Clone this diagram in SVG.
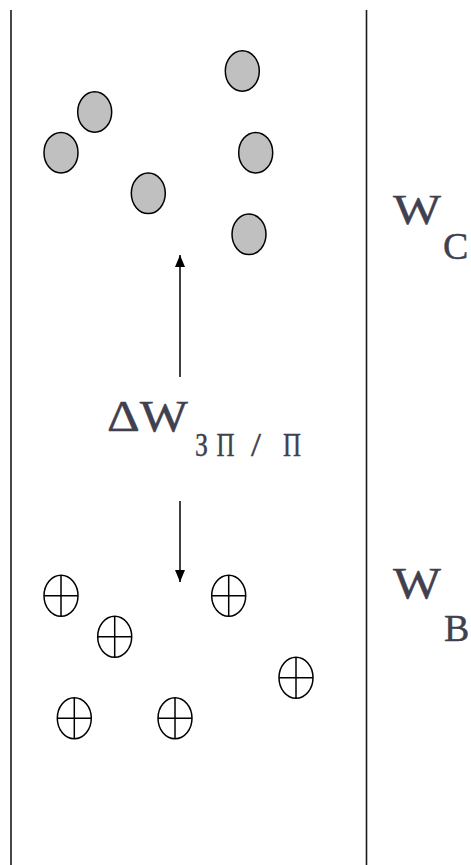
<svg xmlns="http://www.w3.org/2000/svg" width="471" height="865" viewBox="0 0 471 865">
  <style>
    .wall { stroke: #1a1a1a; stroke-width: 1.6; fill: none; }
    .grain { fill: #c0c0c0; stroke: #000; stroke-width: 1.5; }
    .hole { fill: #fff; stroke: #000; stroke-width: 1.5; }
    .cross { stroke: #000; stroke-width: 1.5; }
    .conn { stroke: #000; stroke-width: 1.5; fill: none; }
    .lbl { font-family: "Liberation Serif", "Times New Roman", serif; fill: #40404e; stroke: #40404e; stroke-width: 0.4; }
  </style>
  <defs>
    <marker id="tip" viewBox="0 0 12 10" refX="12" refY="5" markerWidth="12" markerHeight="10" markerUnits="userSpaceOnUse" orient="auto">
      <path d="M0,0 L12,5 L0,10 Z" fill="#000"/>
    </marker>
  </defs>

  <!-- channel walls -->
  <g id="walls">
    <line class="wall" x1="11" y1="10" x2="11" y2="865"/>
    <line class="wall" x1="366.5" y1="10" x2="366.5" y2="865"/>
  </g>

  <!-- upper group: shaded particles -->
  <g id="grains">
    <ellipse class="grain" cx="242.3" cy="71" rx="17" ry="20.3"/>
    <ellipse class="grain" cx="94.7" cy="112" rx="17" ry="20.3"/>
    <ellipse class="grain" cx="61" cy="152.7" rx="17" ry="20.3"/>
    <ellipse class="grain" cx="255.7" cy="152.7" rx="17" ry="20.3"/>
    <ellipse class="grain" cx="148.3" cy="193.3" rx="17" ry="20.3"/>
    <ellipse class="grain" cx="249" cy="234.3" rx="17" ry="20.3"/>
  </g>

  <!-- lower group: crossed particles -->
  <g id="holes">
    <g id="h1"><ellipse class="hole" cx="61" cy="595.7" rx="17" ry="20.5"/><path class="cross" d="M44,595.7 H78 M61,575.2 V616.2"/></g>
    <g id="h2"><ellipse class="hole" cx="114.7" cy="636.7" rx="17" ry="20.5"/><path class="cross" d="M97.7,636.7 H131.7 M114.7,616.2 V657.2"/></g>
    <g id="h3"><ellipse class="hole" cx="228.7" cy="595.7" rx="17" ry="20.5"/><path class="cross" d="M211.7,595.7 H245.7 M228.7,575.2 V616.2"/></g>
    <g id="h4"><ellipse class="hole" cx="296" cy="677.7" rx="17" ry="20.5"/><path class="cross" d="M279,677.7 H313 M296,657.2 V698.2"/></g>
    <g id="h5"><ellipse class="hole" cx="74.3" cy="718.3" rx="17" ry="20.5"/><path class="cross" d="M57.3,718.3 H91.3 M74.3,697.8 V738.8"/></g>
    <g id="h6"><ellipse class="hole" cx="175" cy="718.3" rx="17" ry="20.5"/><path class="cross" d="M158,718.3 H192 M175,697.8 V738.8"/></g>
  </g>

  <!-- energy arrows -->
  <g id="connectors">
    <line class="conn" x1="180" y1="377" x2="180" y2="255" marker-end="url(#tip)"/>
    <line class="conn" x1="180" y1="501" x2="180" y2="582" marker-end="url(#tip)"/>
  </g>

  <!-- labels -->
  <g id="label-wc">
    <text class="lbl" x="393" y="224" font-size="42" textLength="48" lengthAdjust="spacingAndGlyphs">W</text>
    <text class="lbl" x="443" y="259" font-size="38">C</text>
  </g>
  <g id="label-wb">
    <text class="lbl" x="393" y="598" font-size="44" textLength="48" lengthAdjust="spacingAndGlyphs">W</text>
    <text class="lbl" x="444" y="641" font-size="38">B</text>
  </g>
  <g id="label-dw">
    <text class="lbl" x="107" y="431" font-size="44" textLength="81" lengthAdjust="spacingAndGlyphs">ΔW</text>
    <text class="lbl" x="195" y="456" font-size="34" textLength="13" lengthAdjust="spacingAndGlyphs">З</text>
    <text class="lbl" x="216.5" y="456" font-size="34" textLength="18" lengthAdjust="spacingAndGlyphs">П</text>
    <text class="lbl" x="251" y="456" font-size="34" textLength="10" lengthAdjust="spacingAndGlyphs">/</text>
    <text class="lbl" x="283" y="456" font-size="34" textLength="18" lengthAdjust="spacingAndGlyphs">П</text>
  </g>
</svg>
